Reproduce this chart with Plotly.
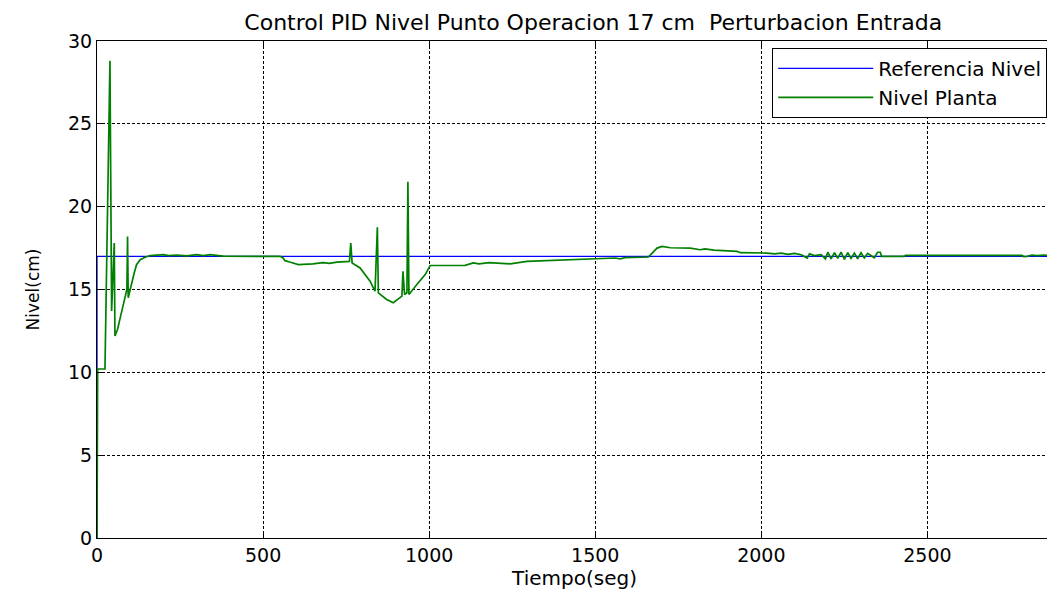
import plotly.graph_objects as go

# reference level (setpoint)
ref_t = [0, 0, 2875]
ref_v = [0, 17, 17]

# plant level
lvl_t = [0, 2, 24, 39, 44, 52, 54, 62, 70, 79, 87, 90, 92, 94, 100, 104, 112, 119, 125, 130,
         145, 160, 200, 215, 240, 270, 300, 320, 340, 360, 380, 500, 551, 560, 566, 580, 606,
         650, 680, 700, 722, 760, 764, 768, 792, 822, 837, 844, 847, 872, 892, 918, 921, 926,
         933, 936, 939, 963, 988, 1003, 1108, 1133, 1150, 1180, 1210, 1244, 1294, 1420, 1525,
         1560, 1575, 1590, 1660, 1672, 1686, 1701, 1726, 1786, 1800, 1816, 1830, 1857, 1927,
         1937, 2017, 2040, 2060, 2080, 2100, 2120, 2138, 2145, 2160, 2180, 2193, 2200, 2210,
         2220, 2230, 2240, 2250, 2260, 2270, 2280, 2290, 2300, 2310, 2320, 2330, 2340, 2350,
         2358, 2362, 2430, 2434, 2785, 2790, 2800, 2815, 2830, 2850, 2875]
lvl_v = [0, 10.2, 10.2, 28.8, 13.7, 17.8, 12.2, 12.6, 13.3, 14.0, 14.6, 15.0, 18.2, 14.5, 15.0,
         15.4, 16.0, 16.5, 16.7, 16.8, 16.95, 17.05, 17.1, 17.05, 17.08, 17.03, 17.1, 17.05,
         17.1, 17.05, 17.02, 17.0, 17.0, 16.9, 16.74, 16.66, 16.5, 16.55, 16.62, 16.58, 16.65,
         16.7, 17.8, 16.6, 16.3, 15.5, 14.9, 18.75, 14.8, 14.4, 14.2, 14.6, 16.1, 14.7, 14.8,
         21.5, 14.7, 15.3, 15.9, 16.45, 16.46, 16.6, 16.55, 16.62, 16.6, 16.55, 16.7, 16.8,
         16.86, 16.9, 16.85, 16.92, 16.96, 17.2, 17.5, 17.6, 17.52, 17.5, 17.45, 17.4, 17.45,
         17.38, 17.3, 17.22, 17.2, 17.15, 17.2, 17.12, 17.18, 17.1, 16.9, 17.15, 17.05, 17.1,
         16.85, 17.25, 16.85, 17.22, 16.88, 17.25, 16.82, 17.22, 16.88, 17.2, 16.85, 17.22,
         16.9, 17.18, 17.05, 16.92, 17.25, 17.25, 17.0, 17.0, 17.06, 17.06, 16.98, 17.0, 17.08,
         17.04, 17.08, 17.05]

font_name = "DejaVu Sans"

fig = go.Figure()
fig.add_trace(go.Scatter(x=ref_t, y=ref_v, mode="lines", name="Referencia Nivel",
                         line=dict(color="#0000FF", width=1.3)))
fig.add_trace(go.Scatter(x=lvl_t, y=lvl_v, mode="lines", name="Nivel Planta",
                         line=dict(color="#008000", width=1.7)))

axis_common = dict(showline=True, linecolor="black", linewidth=1, mirror="allticks",
                   ticks="inside", ticklen=5, tickcolor="black", automargin=False,
                   showgrid=True, gridcolor="black", gridwidth=1, griddash="3px,2px",
                   zeroline=False, tickfont=dict(family=font_name, size=19, color="black"))

fig.update_xaxes(range=[0, 2875], dtick=500, tick0=0,
                 title=dict(text="Tiempo(seg)", font=dict(family=font_name, size=20, color="black"),
                            standoff=2),
                 **axis_common)
fig.update_yaxes(range=[0, 30], dtick=5, tick0=0,
                 title=dict(text="Nivel(cm)", font=dict(family=font_name, size=17, color="black"),
                            standoff=24),
                 **axis_common)

# the page body has an 8px margin, so the figure is sized and offset to suit
fig.update_layout(
    width=1047, height=586,
    margin=dict(l=89, r=3, t=33, b=56),
    plot_bgcolor="white", paper_bgcolor="white",
    title=dict(text="Control PID Nivel Punto Operacion 17 cm \u00a0Perturbacion Entrada",
               font=dict(family=font_name, size=22, color="black"),
               x=0.559, xanchor="center", xref="container", y=0.976, yanchor="middle"),
    legend=dict(x=0.995, xanchor="right", y=0.986, yanchor="top",
                bgcolor="white", bordercolor="black", borderwidth=1,
                itemwidth=95, tracegroupgap=0,
                font=dict(family=font_name, size=20, color="black")),
    showlegend=True,
)

fig.write_html("out.html")
